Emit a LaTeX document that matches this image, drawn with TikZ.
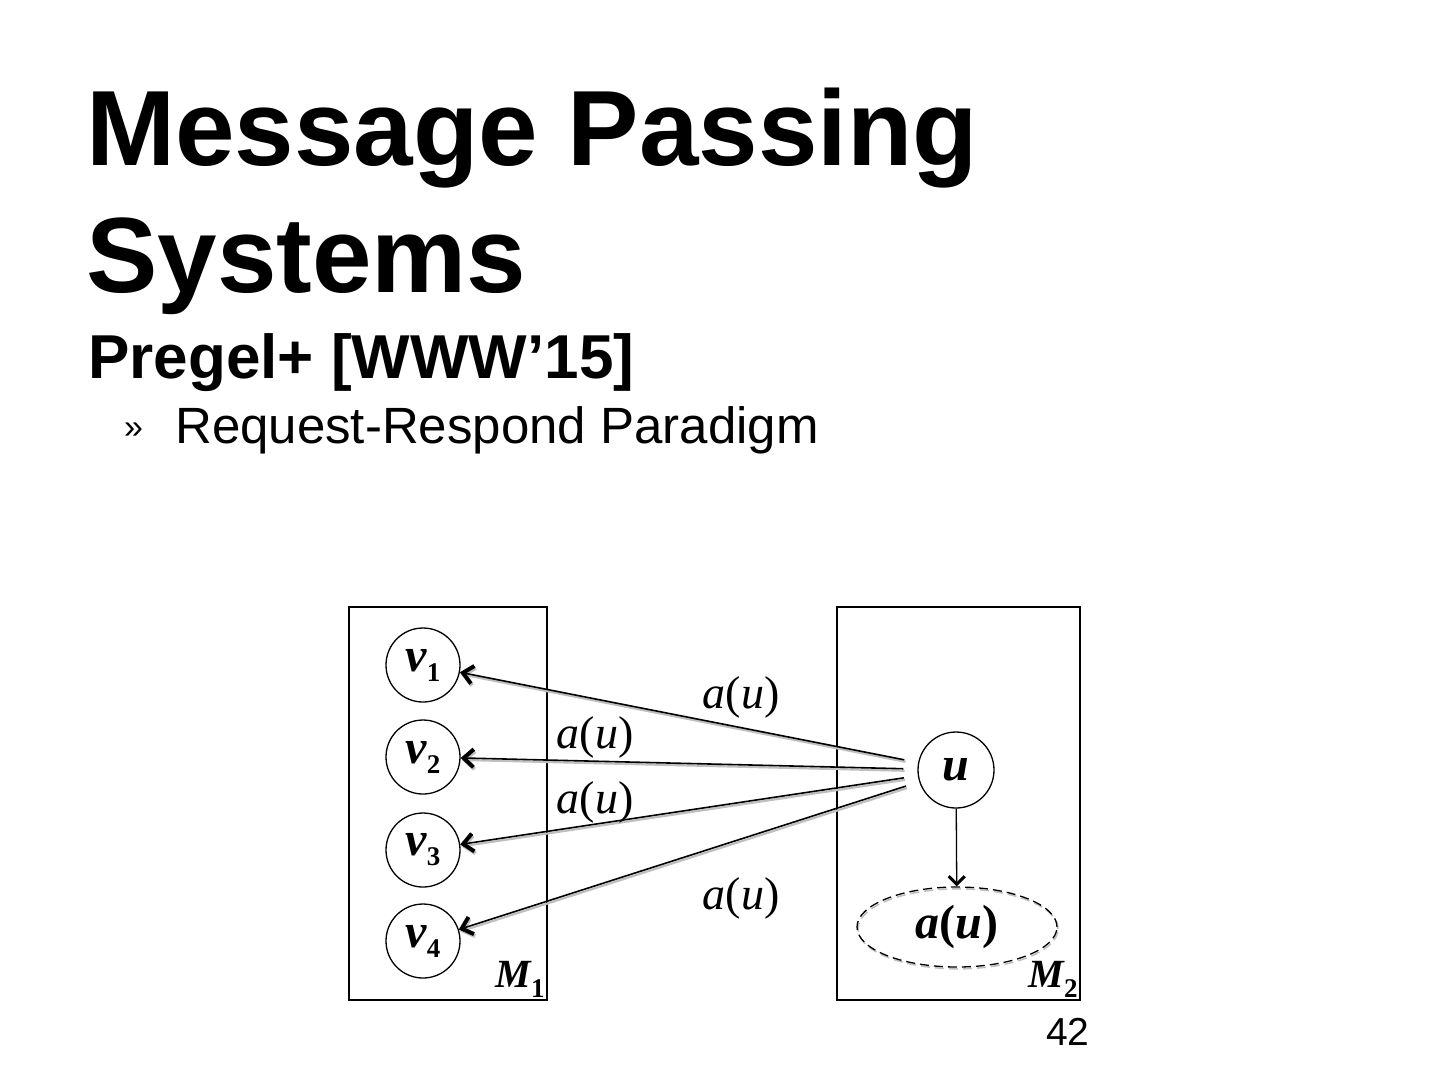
\documentclass[tikz,border=0pt]{standalone}
\usepackage{fontspec}
\setmainfont{Liberation Serif}
\setsansfont{Liberation Sans}
\usetikzlibrary{arrows.meta, shapes.geometric}

\newcommand{\fsz}[1]{\fontsize{#1}{#1}\selectfont}
\newcommand{\subidx}[1]{\raisebox{-10pt}{\fsz{27}\bfseries\upshape #1}}
\newcommand{\au}{a\textup{(}u\textup{)}}

\tikzset{
  vertex/.style={draw, circle, minimum size=74pt, inner sep=0pt, line width=1.3pt,
    font=\fsz{48}\bfseries\itshape},
  machine/.style={draw, line width=1.4pt, inner sep=0pt},
  mlabel/.style={anchor=south east, inner sep=3pt, font=\fsz{40}\bfseries\itshape},
  msg/.style={line width=1.6pt, shorten <=14pt,
    -{Straight Barb[length=10pt, width=18pt, line width=4pt]},
    preaction={draw=gray!50, line width=2.2pt, transform canvas={shift={(1.2,2)}}}},
  msglabel/.style={inner sep=0pt, font=\fsz{46}\itshape},
  slide/.style={anchor=base west, inner sep=0pt, font=\sffamily},
}

\begin{document}
\begin{tikzpicture}[x=1pt, y=-1pt]
    \useasboundingbox (0,0) rectangle (1440,1080);

    % titolo
    \node[slide, font=\sffamily\bfseries\fsz{107}] (title1) at (86,165) {Message Passing};
    \node[slide, font=\sffamily\bfseries\fsz{107}] (title2) at (86,292) {Systems};
    \node[slide, font=\sffamily\bfseries\fsz{62}] (sub) at (88,378) {Pregel+ [WWW’15]};
    \node[slide, font=\sffamily\fsz{34}] (bullet) at (124,438) {»};
    \node[slide, font=\sffamily\fsz{51}] (item) at (175,443) {Request-Respond Paradigm};

    % macchine
    \node[machine, minimum width=198pt, minimum height=393pt] (m1) at (448,803.5) {};
    \node[machine, minimum width=243pt, minimum height=393pt] (m2) at (958.5,803.5) {};
    \node[mlabel] (m1lab) at (m1.south east) {M\subidx{1}};
    \node[mlabel] (m2lab) at (m2.south east) {M\subidx{2}};

    % vertici
    \node[vertex] (v1) at (423,665) {v\subidx{1}};
    \node[vertex] (v2) at (423,757) {v\subidx{2}};
    \node[vertex] (v3) at (423,850) {v\subidx{3}};
    \node[vertex] (v4) at (423,941) {v\subidx{4}};
    \node[vertex, minimum size=76pt] (u) at (956,770) {u};
    \node[draw, dash pattern=on 9pt off 5pt, ellipse, line width=1.3pt,
      minimum width=200pt, minimum height=80pt, font=\fsz{48}\bfseries\itshape,
      preaction={draw=gray!50, dash pattern=on 9pt off 5pt, line width=1.6pt,
        transform canvas={shift={(1,1.8)}}}]
      (au) at (957,927) {\au};

    % messaggi
    \draw[msg] (u) -- (v1);
    \draw[msg] (u) -- (v2);
    \draw[msg] (u) -- (v3);
    \draw[msg] (u) -- (v4);
    \draw[line width=1.3pt, -{Straight Barb[length=8pt, width=16pt, line width=3pt]}] (u) -- (au);

    % etichette
    \node[msglabel] (l1) at (741,697) {\au};
    \node[msglabel] (l2) at (595,737) {\au};
    \node[msglabel] (l3) at (595,802) {\au};
    \node[msglabel] (l4) at (741,898) {\au};

    % pagina
    \node[slide, font=\sffamily\fsz{39}] (page) at (1046,1045) {42};
\end{tikzpicture}
\end{document}
